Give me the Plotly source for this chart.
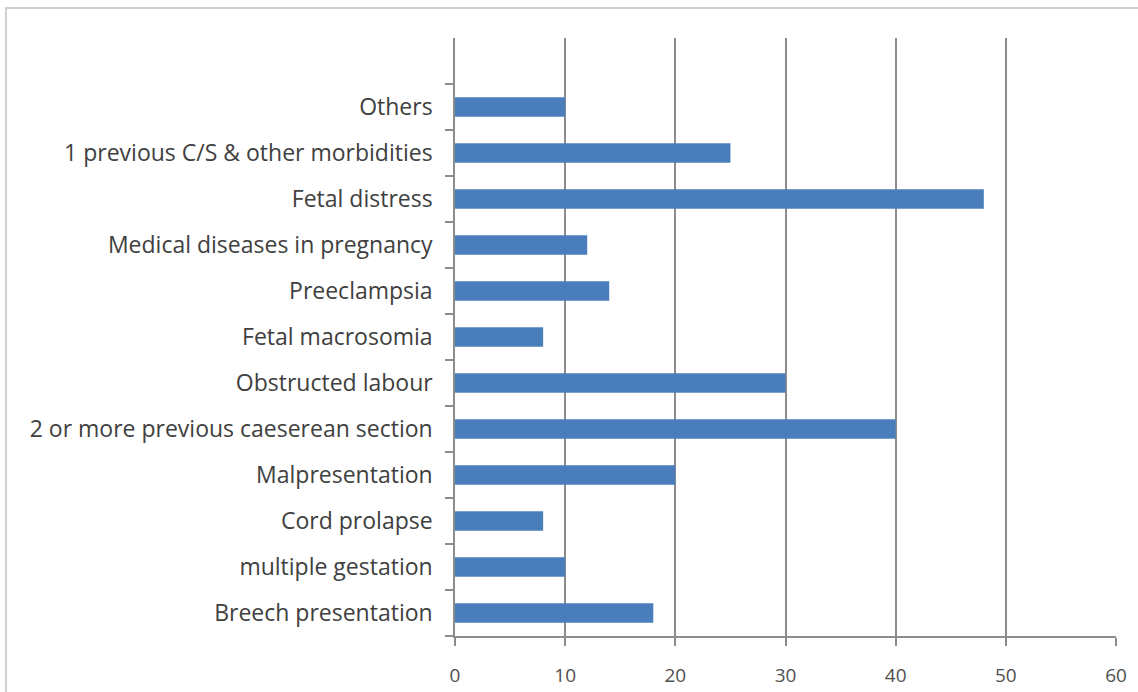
import plotly.graph_objects as go

categories = [
    "Breech presentation",
    "multiple gestation",
    "Cord prolapse",
    "Malpresentation",
    "2 or more previous caeserean section",
    "Obstructed labour",
    "Fetal macrosomia",
    "Preeclampsia",
    "Medical diseases in pregnancy",
    "Fetal distress",
    "1 previous C/S & other morbidities",
    "Others",
]
values = [18, 10, 8, 20, 40, 30, 8, 14, 12, 48, 25, 10]
x_ticks = [0, 10, 20, 30, 40, 50, 60]

W, H = 1138, 692
L, R, T, B = 455, 1116, 38, 636
pw, ph = R - L, B - T

fig = go.Figure(go.Bar(
    x=values, y=categories, orientation="h",
    marker=dict(color="#4a7ebb", line=dict(width=0)),
))

font_family = "'Open Sans', Lato, sans-serif"
fig.update_layout(
    width=W, height=H,
    margin=dict(l=L, r=W - R, t=T, b=H - B, pad=0, autoexpand=False),
    paper_bgcolor="white", plot_bgcolor="white",
    bargap=0.58,
    showlegend=False,
    font=dict(family=font_family, size=20, color="#404040"),
    shapes=[dict(
        type="rect", xref="paper", yref="paper",
        x0=(6 - L) / pw, x1=(1145 - L) / pw,
        y0=(B - 700) / ph, y1=(B - 8) / ph,
        line=dict(color="#cfcfcf", width=2), layer="below",
    )],
)
fig.update_xaxes(
    range=[0, 60], tickvals=x_ticks, ticktext=[str(v) for v in x_ticks],
    showgrid=True, gridcolor="#8c8c8c", gridwidth=1.5,
    showline=True, linecolor="#8c8c8c", linewidth=1.5,
    ticks="outside", ticklen=8, tickcolor="#8c8c8c", tickwidth=1.5,
    zeroline=False, fixedrange=True, ticklabelstandoff=13,
    tickfont=dict(size=19, color="#505050"), automargin=False,
)
fig.update_yaxes(
    type="category", categoryorder="array", categoryarray=categories,
    range=[-0.5, 12.5],
    showgrid=False,
    showline=True, linecolor="#8c8c8c", linewidth=1.5,
    ticks="outside", ticklen=8, tickcolor="#8c8c8c", tickwidth=1.5,
    tickson="boundaries", ticklabelstandoff=16,
    tickfont=dict(size=23, color="#404040"),
    zeroline=False, fixedrange=True, automargin=False,
)

fig.write_html("out.html")
